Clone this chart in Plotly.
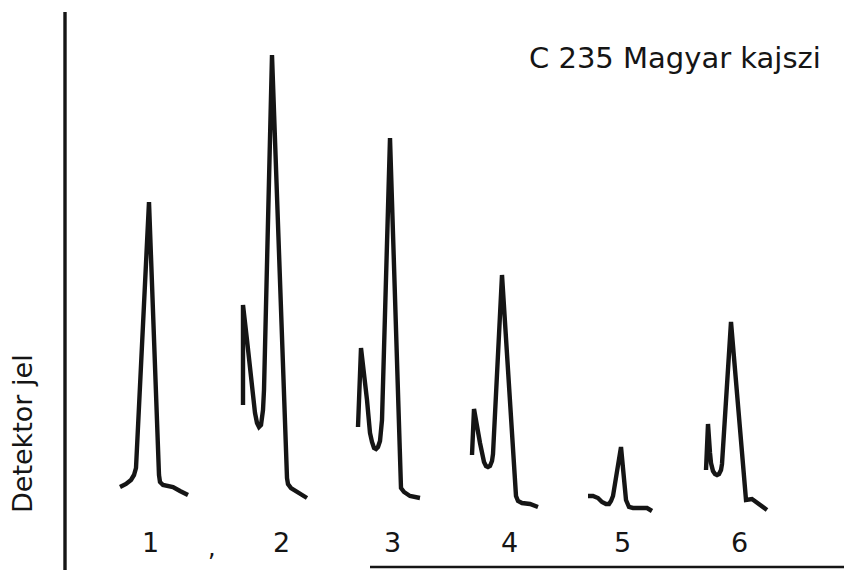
import plotly.graph_objects as go

# Chromatogram traces (retention position, detector signal) per sample
p1_t = [120, 126, 131, 134, 136, 149, 159, 160, 163, 167, 173, 180, 188]
p1_s = [83, 86, 90, 95, 102, 368, 95, 88, 85, 84, 83, 79, 75]

p2_t = [243, 243, 247, 253, 255, 257, 259, 261, 262, 263, 264, 272, 287, 288, 291, 296, 307]
p2_s = [165, 265, 230, 173, 157, 147, 143, 145, 150, 160, 180, 515, 92, 86, 82, 79, 72]

p3_t = [358, 361, 367, 370, 372, 374, 376, 378, 380, 381, 382, 390, 400, 401, 404, 410, 420]
p3_s = [143, 222, 170, 137, 128, 122, 121, 123, 129, 138, 150, 432, 87, 82, 78, 74, 72]

p4_t = [472, 474, 480, 482, 484, 486, 488, 490, 492, 493, 502, 516, 518, 522, 530, 538]
p4_s = [115, 161, 127, 115, 108, 104, 103, 104, 109, 116, 295, 74, 69, 67, 66, 63]

p5_t = [588, 593, 598, 602, 606, 609, 611, 613, 621, 626, 629, 633, 647, 652]
p5_s = [74, 74, 72, 68, 66, 66, 69, 74, 123, 70, 63, 62, 62, 59]

p6_t = [706, 708, 710, 711, 713, 715, 717, 719, 721, 722, 731, 746, 752, 767]
p6_s = [100, 146, 117, 107, 99, 96, 95, 96, 100, 106, 248, 70, 71, 60]

sample_labels = ["1", "2", "3", "4", "5", "6"]
label_pos = [150, 281, 392, 509, 622, 739]
label_level = 28

title_text = "C 235 Magyar kajszi"
y_title = "Detektor jel"

INK = "#151515"
FONT = "DejaVu Sans"

fig = go.Figure()
for t, s in [(p1_t, p1_s), (p2_t, p2_s), (p3_t, p3_s), (p4_t, p4_s), (p5_t, p5_s), (p6_t, p6_s)]:
    fig.add_trace(go.Scatter(x=t, y=s, mode="lines",
                             line=dict(color=INK, width=4.4, shape="linear"),
                             hoverinfo="skip", showlegend=False))

for lab, xp in zip(sample_labels, label_pos):
    fig.add_annotation(x=xp, y=label_level, text=lab, showarrow=False,
                       xref="x", yref="y",
                       font=dict(family=FONT, size=27, color=INK))
fig.add_annotation(x=212, y=22, text=",", showarrow=False, xref="x", yref="y",
                   font=dict(family=FONT, size=24, color=INK))

fig.add_annotation(x=675, y=512, text=title_text, showarrow=False, xref="x", yref="y",
                   font=dict(family=FONT, size=29, color=INK))
fig.add_annotation(x=22, y=136, text=y_title, showarrow=False, xref="x", yref="y",
                   textangle=-90, font=dict(family=FONT, size=27, color=INK))

# frame lines
fig.add_shape(type="line", xref="paper", yref="paper",
              x0=65/844, x1=65/844, y0=0, y1=(570-12)/570,
              line=dict(color=INK, width=3.4))
fig.add_shape(type="line", xref="paper", yref="paper",
              x0=370/844, x1=1, y0=3/570, y1=3/570,
              line=dict(color=INK, width=2.5))

fig.update_layout(width=844, height=570, margin=dict(l=0, r=0, t=0, b=0),
                  paper_bgcolor="white", plot_bgcolor="white",
                  xaxis=dict(range=[0, 844], visible=False, fixedrange=True),
                  yaxis=dict(range=[0, 570], visible=False, fixedrange=True))

fig.write_html("out.html")
